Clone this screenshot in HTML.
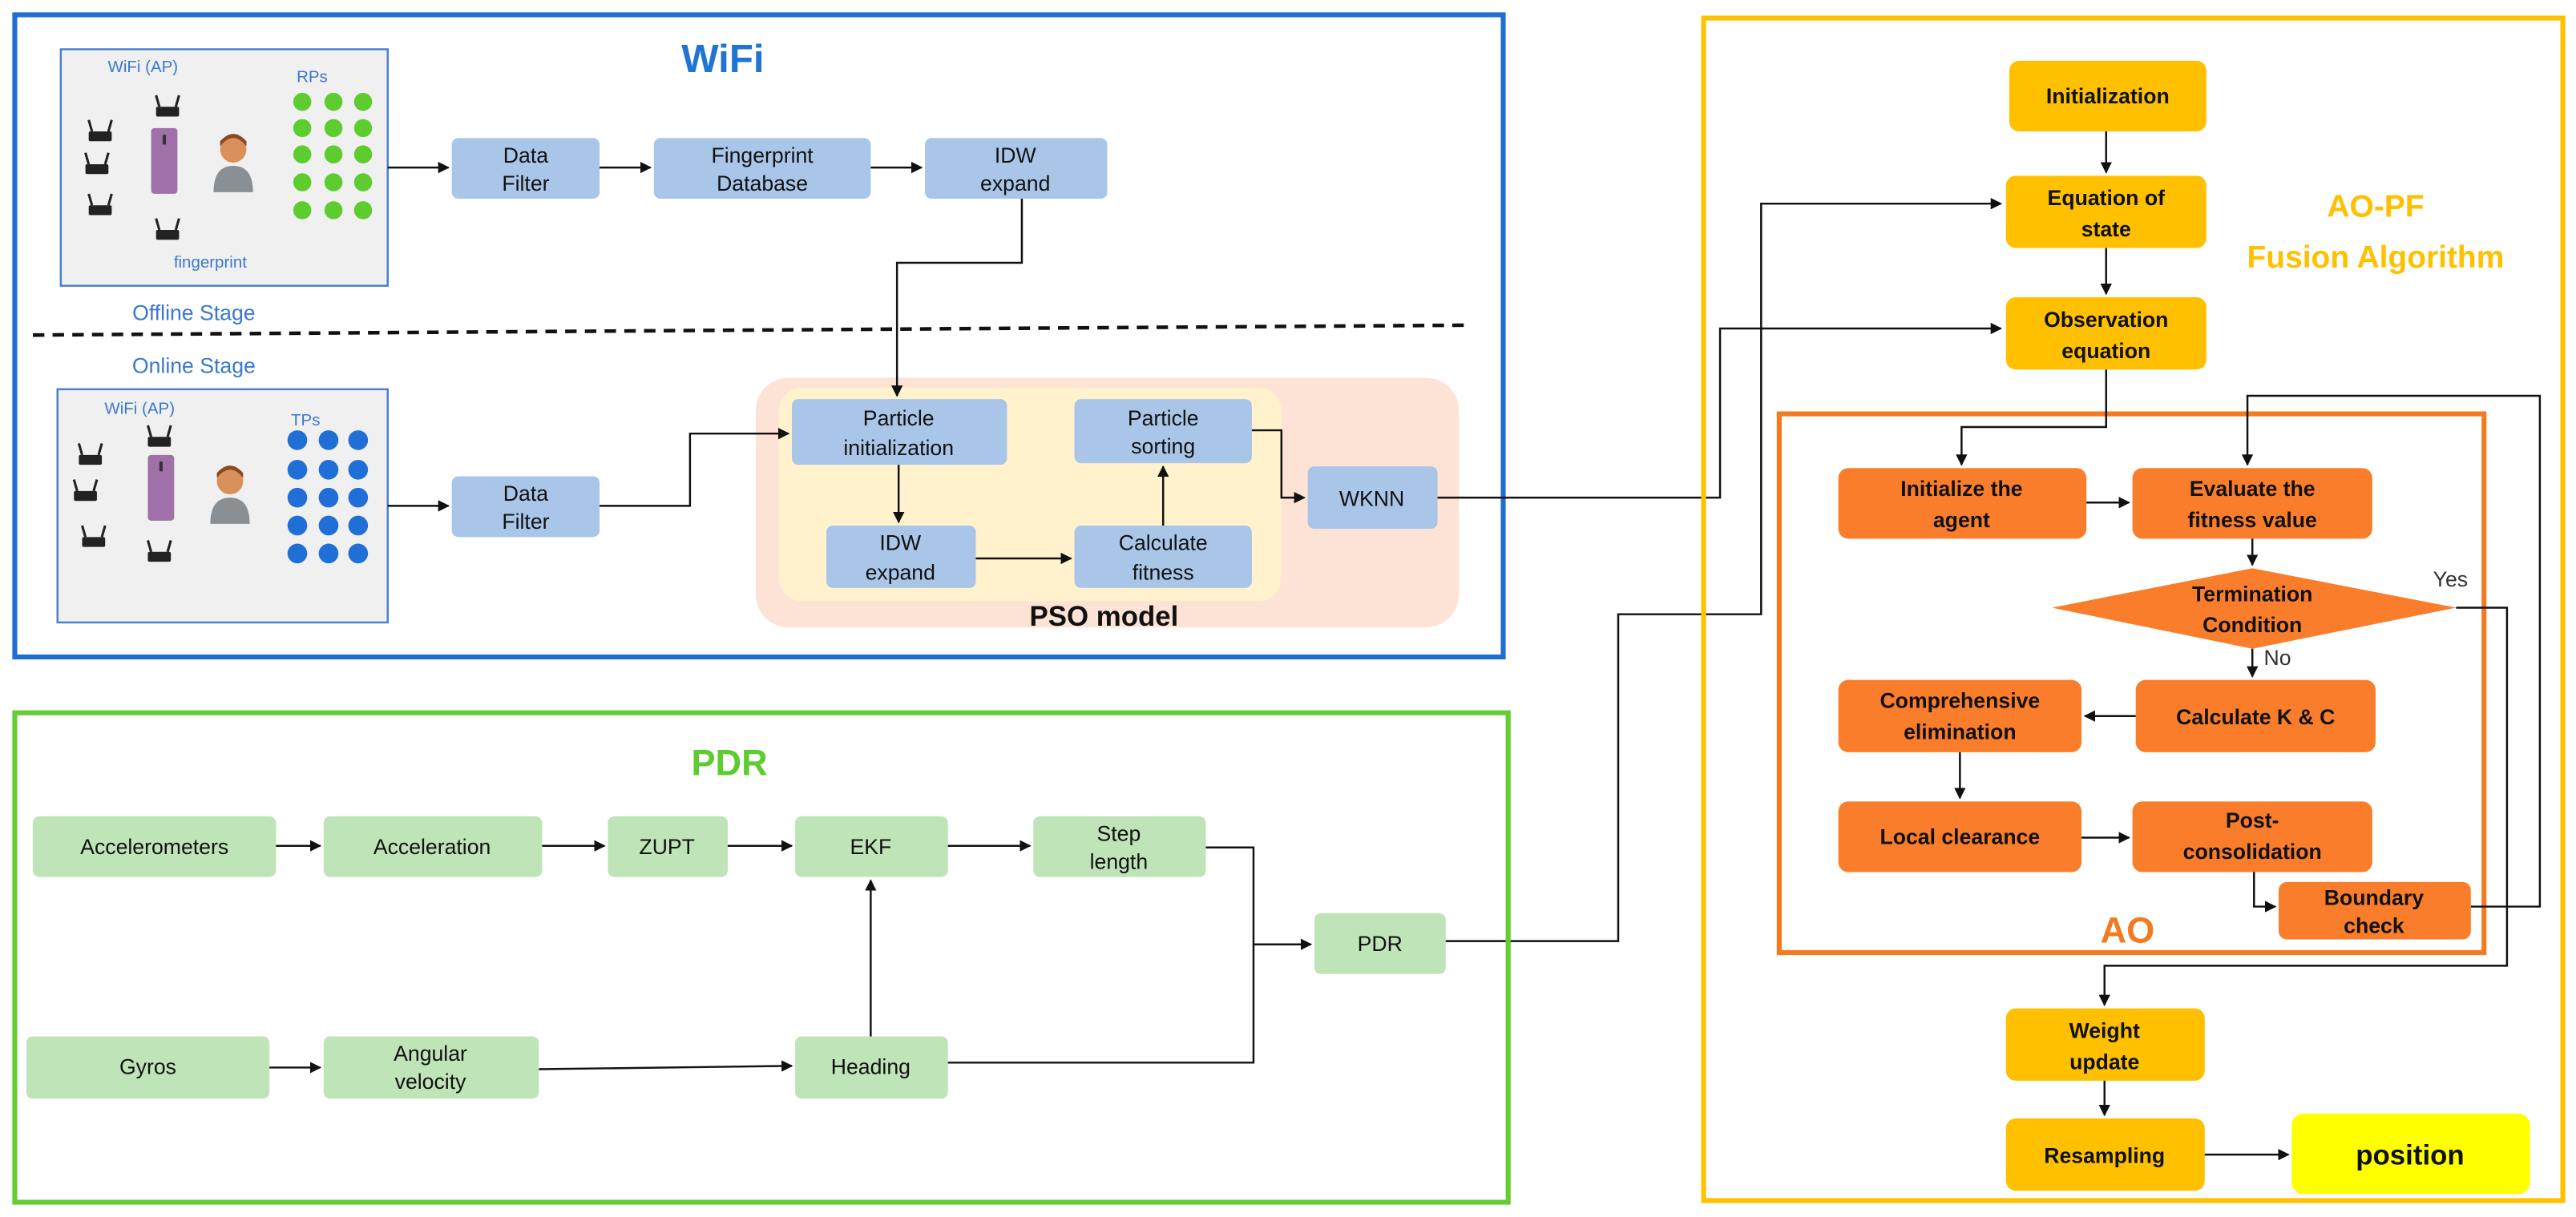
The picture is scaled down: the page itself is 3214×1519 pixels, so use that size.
<!DOCTYPE html>
<html><head><meta charset="utf-8"><style>
html,body{margin:0;padding:0;background:#fff;}
svg{display:block;}
text{font-family:"Liberation Sans",sans-serif;}
</style></head><body>
<svg width="3214" height="1519" viewBox="0 0 1568 741" preserveAspectRatio="none" xmlns="http://www.w3.org/2000/svg">
<defs>
<marker id="a" viewBox="0 0 10 10" refX="9" refY="5" markerWidth="7" markerHeight="7" orient="auto" markerUnits="userSpaceOnUse"><path d="M0,0L10,5L0,10z" fill="#111"/></marker>
<g id="rt"><rect x="0" y="7" width="14" height="6" rx="1" fill="#222"/><line x1="2" y1="7" x2="0" y2="0" stroke="#222" stroke-width="1.5"/><line x1="12" y1="7" x2="14" y2="0" stroke="#222" stroke-width="1.5"/></g>
<g id="ph"><rect x="0" y="0" width="16" height="40" rx="2" fill="#a070a8"/><rect x="7" y="4" width="2" height="6" fill="#333"/></g>
<g id="pp"><circle cx="12" cy="8" r="8" fill="#d9905a"/><path d="M4,6 Q12,-4 20,6 L20,3 Q12,-6 4,3z" fill="#8a4a20"/><path d="M0,34 Q0,18 12,18 Q24,18 24,34z" fill="#8a8f94"/></g>
</defs>
<style>
.b{fill:#a9c6e9;}
.g{fill:#bfe4b7;}
.o{fill:#fa7d2b;}
.y{fill:#ffc000;}
.t{font-size:13px;fill:#111;text-anchor:middle;}
.tb{font-size:13px;fill:#111;text-anchor:middle;font-weight:bold;}
.l{stroke:#111;stroke-width:1.2;fill:none;}
</style>

<!-- WiFi box -->
<rect x="9" y="9" width="906" height="391" fill="none" stroke="#1f6fd0" stroke-width="3"/>
<text x="440" y="44" font-size="24" font-weight="bold" fill="#1f74d4" text-anchor="middle">WiFi</text>

<!-- offline panel -->
<rect x="37" y="30" width="199" height="144" fill="#f0f0f0" stroke="#4a7fd0" stroke-width="1.2"/>
<text x="87" y="44" font-size="10" fill="#3a78d0" text-anchor="middle">WiFi (AP)</text>
<text x="190" y="50" font-size="10" fill="#3a78d0" text-anchor="middle">RPs</text>
<text x="128" y="163" font-size="10" fill="#3a78d0" text-anchor="middle">fingerprint</text>
<use href="#rt" x="95" y="58"/><use href="#rt" x="54" y="73"/><use href="#rt" x="52" y="93"/><use href="#rt" x="54" y="118"/><use href="#rt" x="95" y="133"/>
<use href="#ph" x="92" y="78"/><use href="#pp" x="130" y="83"/>
<g fill="#5ccc2e">
<circle cx="184" cy="62" r="5.5"/><circle cx="203" cy="62" r="5.5"/><circle cx="221" cy="62" r="5.5"/>
<circle cx="184" cy="78" r="5.5"/><circle cx="203" cy="78" r="5.5"/><circle cx="221" cy="78" r="5.5"/>
<circle cx="184" cy="94" r="5.5"/><circle cx="203" cy="94" r="5.5"/><circle cx="221" cy="94" r="5.5"/>
<circle cx="184" cy="111" r="5.5"/><circle cx="203" cy="111" r="5.5"/><circle cx="221" cy="111" r="5.5"/>
<circle cx="184" cy="128" r="5.5"/><circle cx="203" cy="128" r="5.5"/><circle cx="221" cy="128" r="5.5"/>
</g>
<text x="118" y="195" font-size="13" fill="#3a78d0" text-anchor="middle">Offline Stage</text>
<line x1="20" y1="204" x2="892" y2="198" stroke="#111" stroke-width="2.2" stroke-dasharray="7,5"/>
<text x="118" y="227" font-size="13" fill="#3a78d0" text-anchor="middle">Online Stage</text>

<!-- online panel -->
<rect x="35" y="237" width="201" height="142" fill="#f0f0f0" stroke="#4a7fd0" stroke-width="1.2"/>
<text x="85" y="252" font-size="10" fill="#3a78d0" text-anchor="middle">WiFi (AP)</text>
<text x="186" y="259" font-size="10" fill="#3a78d0" text-anchor="middle">TPs</text>
<use href="#rt" x="90" y="259"/><use href="#rt" x="48" y="270"/><use href="#rt" x="45" y="292"/><use href="#rt" x="50" y="320"/><use href="#rt" x="90" y="329"/>
<use href="#ph" x="90" y="277"/><use href="#pp" x="128" y="285"/>
<g fill="#1f6fd6">
<circle cx="181" cy="268" r="6"/><circle cx="200" cy="268" r="6"/><circle cx="218" cy="268" r="6"/>
<circle cx="181" cy="286" r="6"/><circle cx="200" cy="286" r="6"/><circle cx="218" cy="286" r="6"/>
<circle cx="181" cy="303" r="6"/><circle cx="200" cy="303" r="6"/><circle cx="218" cy="303" r="6"/>
<circle cx="181" cy="320" r="6"/><circle cx="200" cy="320" r="6"/><circle cx="218" cy="320" r="6"/>
<circle cx="181" cy="337" r="6"/><circle cx="200" cy="337" r="6"/><circle cx="218" cy="337" r="6"/>
</g>

<!-- PSO -->
<rect x="460" y="230" width="428" height="152" rx="20" fill="#fce3d5"/>
<rect x="474" y="236" width="306" height="130" rx="14" fill="#fff2cc"/>
<text x="672" y="381" font-size="17" font-weight="bold" fill="#111" text-anchor="middle">PSO model</text>

<!-- blue nodes -->
<rect class="b" x="275" y="84" width="90" height="37" rx="4"/><text class="t" x="320" y="99">Data</text><text class="t" x="320" y="116">Filter</text>
<rect class="b" x="398" y="84" width="132" height="37" rx="4"/><text class="t" x="464" y="99">Fingerprint</text><text class="t" x="464" y="116">Database</text>
<rect class="b" x="563" y="84" width="111" height="37" rx="4"/><text class="t" x="618" y="99">IDW</text><text class="t" x="618" y="116">expand</text>
<rect class="b" x="275" y="290" width="90" height="37" rx="4"/><text class="t" x="320" y="305">Data</text><text class="t" x="320" y="322">Filter</text>
<rect class="b" x="482" y="243" width="131" height="40" rx="4"/><text class="t" x="547" y="259">Particle</text><text class="t" x="547" y="277">initialization</text>
<rect class="b" x="654" y="243" width="108" height="39" rx="4"/><text class="t" x="708" y="259">Particle</text><text class="t" x="708" y="276">sorting</text>
<rect class="b" x="503" y="320" width="91" height="38" rx="4"/><text class="t" x="548" y="335">IDW</text><text class="t" x="548" y="353">expand</text>
<rect class="b" x="654" y="320" width="108" height="38" rx="4"/><text class="t" x="708" y="335">Calculate</text><text class="t" x="708" y="353">fitness</text>
<rect class="b" x="796" y="284" width="79" height="38" rx="4"/><text class="t" x="835" y="308">WKNN</text>

<!-- WiFi connectors -->
<line class="l" x1="236" y1="102" x2="273" y2="102" marker-end="url(#a)" stroke-width="2"/>
<line class="l" x1="365" y1="102" x2="396" y2="102" marker-end="url(#a)" stroke-width="2"/>
<line class="l" x1="530" y1="102" x2="561" y2="102" marker-end="url(#a)" stroke-width="2"/>
<line class="l" x1="236" y1="308" x2="273" y2="308" marker-end="url(#a)" stroke-width="2"/>
<polyline class="l" points="622,121 622,160 546,160 546,241" marker-end="url(#a)"/>
<polyline class="l" points="365,308 420,308 420,264 480,264" marker-end="url(#a)" stroke-width="1.8"/>
<line class="l" x1="547" y1="283" x2="547" y2="318" marker-end="url(#a)"/>
<line class="l" x1="594" y1="340" x2="652" y2="340" marker-end="url(#a)" stroke-width="1.8"/>
<line class="l" x1="708" y1="320" x2="708" y2="284" marker-end="url(#a)"/>
<polyline class="l" points="762,262 780,262 780,303 794,303" marker-end="url(#a)"/>
<polyline class="l" points="875,303 1047,303 1047,200 1218,200" marker-end="url(#a)"/>
<polyline class="l" points="878,573 985,573 985,374 1072,374 1072,124 1218,124" marker-end="url(#a)"/>

<!-- PDR box -->
<rect x="9" y="434" width="909" height="298" fill="none" stroke="#66cc33" stroke-width="3"/>
<text x="444" y="472" font-size="22" font-weight="bold" fill="#5ccc2e" text-anchor="middle">PDR</text>
<rect class="g" x="20" y="497" width="148" height="37" rx="4"/><text class="t" x="94" y="520">Accelerometers</text>
<rect class="g" x="197" y="497" width="133" height="37" rx="4"/><text class="t" x="263" y="520">Acceleration</text>
<rect class="g" x="370" y="497" width="73" height="37" rx="4"/><text class="t" x="406" y="520">ZUPT</text>
<rect class="g" x="484" y="497" width="93" height="37" rx="4"/><text class="t" x="530" y="520">EKF</text>
<rect class="g" x="629" y="497" width="105" height="37" rx="4"/><text class="t" x="681" y="512">Step</text><text class="t" x="681" y="529">length</text>
<rect class="g" x="800" y="556" width="80" height="37" rx="4"/><text class="t" x="840" y="579">PDR</text>
<rect class="g" x="16" y="631" width="148" height="38" rx="4"/><text class="t" x="90" y="654">Gyros</text>
<rect class="g" x="197" y="631" width="131" height="38" rx="4"/><text class="t" x="262" y="646">Angular</text><text class="t" x="262" y="663">velocity</text>
<rect class="g" x="484" y="631" width="93" height="38" rx="4"/><text class="t" x="530" y="654">Heading</text>
<line class="l" x1="168" y1="515" x2="195" y2="515" marker-end="url(#a)" stroke-width="2"/>
<line class="l" x1="330" y1="515" x2="368" y2="515" marker-end="url(#a)" stroke-width="2"/>
<line class="l" x1="443" y1="515" x2="482" y2="515" marker-end="url(#a)" stroke-width="2"/>
<line class="l" x1="577" y1="515" x2="627" y2="515" marker-end="url(#a)" stroke-width="2"/>
<line class="l" x1="164" y1="650" x2="195" y2="650" marker-end="url(#a)" stroke-width="2"/>
<line class="l" x1="328" y1="651" x2="482" y2="649" marker-end="url(#a)" stroke-width="2"/>
<line class="l" x1="530" y1="631" x2="530" y2="536" marker-end="url(#a)"/>
<polyline class="l" points="734,516 763,516 763,647 577,647"/>
<line class="l" x1="763" y1="575" x2="798" y2="575" marker-end="url(#a)" stroke-width="2"/>

<!-- AO-PF box -->
<rect x="1037" y="11" width="523" height="720" fill="none" stroke="#ffc000" stroke-width="3"/>
<text x="1446" y="132" font-size="19" font-weight="bold" fill="#ffc000" text-anchor="middle">AO-PF</text>
<text x="1446" y="163" font-size="19" font-weight="bold" fill="#ffc000" text-anchor="middle">Fusion Algorithm</text>
<rect class="y" x="1223" y="37" width="120" height="43" rx="6"/><text class="tb" x="1283" y="63">Initialization</text>
<rect class="y" x="1221" y="107" width="122" height="44" rx="6"/><text class="tb" x="1282" y="125">Equation of</text><text class="tb" x="1282" y="144">state</text>
<rect class="y" x="1221" y="181" width="122" height="44" rx="6"/><text class="tb" x="1282" y="199">Observation</text><text class="tb" x="1282" y="218">equation</text>
<line class="l" x1="1282" y1="80" x2="1282" y2="105" marker-end="url(#a)"/>
<line class="l" x1="1282" y1="151" x2="1282" y2="179" marker-end="url(#a)"/>

<rect x="1083" y="252" width="429" height="328" fill="none" stroke="#f47a20" stroke-width="3"/>
<text x="1295" y="574" font-size="22" font-weight="bold" fill="#f47a20" text-anchor="middle">AO</text>
<rect class="o" x="1119" y="285" width="151" height="43" rx="6"/><text class="tb" x="1194" y="302">Initialize the</text><text class="tb" x="1194" y="321">agent</text>
<rect class="o" x="1298" y="285" width="146" height="43" rx="6"/><text class="tb" x="1371" y="302">Evaluate the</text><text class="tb" x="1371" y="321">fitness value</text>
<polygon class="o" points="1249,370 1371,346 1495,370 1371,395"/>
<text class="tb" x="1371" y="366">Termination</text><text class="tb" x="1371" y="385">Condition</text>
<text x="1481" y="357" font-size="13" fill="#333">Yes</text>
<text x="1378" y="405" font-size="13" fill="#333">No</text>
<rect class="o" x="1300" y="414" width="146" height="44" rx="6"/><text class="tb" x="1373" y="441">Calculate K &amp; C</text>
<rect class="o" x="1119" y="414" width="148" height="44" rx="6"/><text class="tb" x="1193" y="431">Comprehensive</text><text class="tb" x="1193" y="450">elimination</text>
<rect class="o" x="1119" y="488" width="148" height="43" rx="6"/><text class="tb" x="1193" y="514">Local clearance</text>
<rect class="o" x="1298" y="488" width="146" height="43" rx="6"/><text class="tb" x="1371" y="504">Post-</text><text class="tb" x="1371" y="523">consolidation</text>
<rect class="o" x="1387" y="537" width="117" height="35" rx="5"/><text class="tb" x="1445" y="551">Boundary</text><text class="tb" x="1445" y="568">check</text>

<polyline class="l" points="1282,225 1282,260 1194,260 1194,283" marker-end="url(#a)"/>
<line class="l" x1="1270" y1="306" x2="1296" y2="306" marker-end="url(#a)"/>
<line class="l" x1="1371" y1="328" x2="1371" y2="344" marker-end="url(#a)"/>
<line class="l" x1="1371" y1="395" x2="1371" y2="412" marker-end="url(#a)"/>
<line class="l" x1="1300" y1="436" x2="1269" y2="436" marker-end="url(#a)"/>
<line class="l" x1="1193" y1="458" x2="1193" y2="486" marker-end="url(#a)"/>
<line class="l" x1="1267" y1="510" x2="1296" y2="510" marker-end="url(#a)"/>
<polyline class="l" points="1372,531 1372,552 1385,552" marker-end="url(#a)"/>
<polyline class="l" points="1504,552 1546,552 1546,241 1368,241 1368,283" marker-end="url(#a)"/>
<polyline class="l" points="1495,370 1526,370 1526,588 1281,588 1281,612" marker-end="url(#a)"/>

<rect class="y" x="1221" y="614" width="121" height="44" rx="6"/><text class="tb" x="1281" y="632">Weight</text><text class="tb" x="1281" y="651">update</text>
<rect class="y" x="1221" y="681" width="121" height="44" rx="6"/><text class="tb" x="1281" y="708">Resampling</text>
<rect x="1395" y="678" width="145" height="49" rx="7" fill="#ffff00"/><text x="1467" y="709" font-size="17" font-weight="bold" fill="#111" text-anchor="middle">position</text>
<line class="l" x1="1281" y1="658" x2="1281" y2="679" marker-end="url(#a)"/>
<line class="l" x1="1342" y1="703" x2="1393" y2="703" marker-end="url(#a)"/>
</svg>
</body></html>
